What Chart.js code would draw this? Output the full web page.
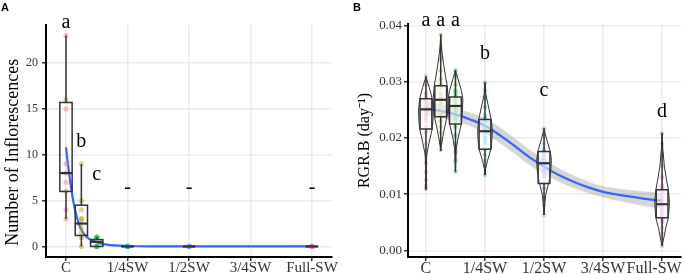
<!DOCTYPE html>
<html><head><meta charset="utf-8">
<script src="https://cdn.jsdelivr.net/npm/chart.js@4.4.1/dist/chart.umd.min.js"></script>
<style>
html,body{margin:0;padding:0;background:#fff;}
#wrap{position:relative;width:685px;height:274px;overflow:hidden;background:#fff;}
#ca{position:absolute;left:0;top:0;}
#cb{position:absolute;left:340px;top:0;}
</style></head><body>
<div id="wrap"><canvas id="ca" width="340" height="274"></canvas><canvas id="cb" width="345" height="274"></canvas></div>
<script>
// ===== Shared categories =====
const xTickValues = [0, 1, 2, 3, 4];
const xTickLabels = ['C', '1/4SW', '1/2SW', '3/4SW', 'Full-SW'];
const groupX = [0, 0.25, 0.5, 1, 2, 4];
const groupColors = ['#F8766D', '#B79F00', '#00BA38', '#00BFC4', '#619CFF', '#F564E3'];

// ===== Panel A : Number of Inflorescences =====
const aYTicks = [0, 5, 10, 15, 20];
const aPoints1 = [23, 16, 15, 9, 8, 7, 6, 4, 3];
const aPoints2 = [9, 5, 4, 3, 3, 2.5, 2, 1.5, 1, 0];
const aPoints3 = [1, 1, 1, 0, 0, 0];
const aPoints4 = [0, 0, 0, 0, 0];
const aPoints5 = [0, 0, 0, 0];
const aPoints6 = [0, 0, 0, 0];
// box stats: [min, q1, median, q3, max]
const aBox1 = [3, 6, 8, 15.7, 23];
const aBox2 = [0, 1.2, 2.5, 4.5, 9];
const aBox3 = [0, 0, 0.5, 0.75, 1];
const aBox4 = [0, 0, 0, 0, 0];
const aBox5 = [0, 0, 0, 0, 0];
const aBox6 = [0, 0, 0, 0, 0];
const aLetters = ['a', 'b', 'c', '-', '-', '-'];
const aLetterY = [23.8, 10.8, 7.2, 5.8, 5.8, 5.8];
const aFitX  = [0, 0.04, 0.09, 0.15, 0.23, 0.34, 0.5, 0.66, 1, 1.5, 2, 3, 4];
const aFitY  = [10.8, 8.5, 6.1, 3.9, 2.1, 1.0, 0.47, 0.2, 0.05, 0.01, 0, 0, 0];
const aFitLo = [10.2, 8.0, 5.7, 3.6, 1.85, 0.82, 0.36, 0.12, -0.03, -0.06, -0.06, -0.06, -0.08];
const aFitHi = [11.4, 9.0, 6.5, 4.2, 2.35, 1.18, 0.58, 0.28, 0.13, 0.08, 0.06, 0.06, 0.08];

// ===== Panel B : RGR.B =====
const bYTicks = [0.00, 0.01, 0.02, 0.03, 0.04];
const bPoints1 = [0.031, 0.0295, 0.028, 0.0275, 0.027, 0.0265, 0.026, 0.0255, 0.025, 0.025, 0.0245, 0.024, 0.0235, 0.023, 0.022, 0.021, 0.019, 0.017, 0.0155, 0.014, 0.0125, 0.0115, 0.011];
const bPoints2 = [0.0384, 0.036, 0.034, 0.032, 0.0305, 0.0295, 0.029, 0.028, 0.0275, 0.027, 0.0265, 0.026, 0.025, 0.0245, 0.024, 0.023, 0.022, 0.021, 0.0195, 0.0178];
const bPoints3 = [0.0321, 0.031, 0.0295, 0.0285, 0.028, 0.0275, 0.027, 0.0265, 0.026, 0.0255, 0.025, 0.0245, 0.024, 0.0235, 0.023, 0.022, 0.0205, 0.019, 0.0175, 0.016, 0.014];
const bPoints4 = [0.0299, 0.0285, 0.027, 0.0255, 0.024, 0.0235, 0.023, 0.022, 0.0215, 0.021, 0.0205, 0.02, 0.0195, 0.019, 0.018, 0.017, 0.016, 0.015, 0.0134];
const bPoints5 = [0.0217, 0.0205, 0.019, 0.018, 0.0175, 0.017, 0.0165, 0.016, 0.0155, 0.015, 0.0145, 0.014, 0.0135, 0.013, 0.012, 0.011, 0.0095, 0.008, 0.0063];
const bPoints6 = [0.0209, 0.019, 0.017, 0.015, 0.013, 0.0115, 0.011, 0.0105, 0.01, 0.0095, 0.009, 0.0085, 0.008, 0.0075, 0.007, 0.0065, 0.006, 0.0055, 0.005, 0.004, 0.003, 0.0008];
const bBox1 = [0.011, 0.0216, 0.0251, 0.027, 0.031];
const bBox2 = [0.0177, 0.0238, 0.0268, 0.0293, 0.0384];
const bBox3 = [0.014, 0.0225, 0.0257, 0.0273, 0.0321];
const bBox4 = [0.0134, 0.018, 0.0212, 0.0233, 0.0299];
const bBox5 = [0.0063, 0.0119, 0.0155, 0.0176, 0.0217];
const bBox6 = [0.0008, 0.0058, 0.0082, 0.0108, 0.0209];
// violin density profiles (value levels, relative density)
const bViolinV1 = [0.0309, 0.029, 0.027, 0.025, 0.023, 0.0216, 0.019, 0.017, 0.015, 0.013, 0.0107];
const bViolinD1 = [0, 0.45, 0.85, 1.0, 0.95, 0.85, 0.4, 0.1, 0.06, 0.05, 0];
const bViolinV2 = [0.0384, 0.036, 0.033, 0.031, 0.0293, 0.027, 0.025, 0.0238, 0.022, 0.020, 0.0185, 0.0177];
const bViolinD2 = [0, 0.1, 0.4, 0.65, 0.88, 1.0, 0.95, 0.85, 0.55, 0.25, 0.08, 0];
const bViolinV3 = [0.0321, 0.030, 0.0285, 0.027, 0.025, 0.0225, 0.020, 0.018, 0.016, 0.014];
const bViolinD3 = [0, 0.45, 0.8, 1.0, 0.95, 0.8, 0.35, 0.1, 0.05, 0];
const bViolinV4 = [0.0299, 0.028, 0.026, 0.0233, 0.0212, 0.019, 0.018, 0.016, 0.0145, 0.0134];
const bViolinD4 = [0, 0.08, 0.4, 0.85, 1.0, 0.9, 0.8, 0.35, 0.08, 0];
const bViolinV5 = [0.0217, 0.020, 0.0176, 0.016, 0.014, 0.0119, 0.010, 0.008, 0.0063];
const bViolinD5 = [0, 0.3, 0.85, 1.0, 0.9, 0.6, 0.25, 0.08, 0];
const bViolinV6 = [0.0209, 0.018, 0.015, 0.0125, 0.0108, 0.0085, 0.0058, 0.004, 0.002, 0.0008];
const bViolinD6 = [0, 0.1, 0.3, 0.6, 0.85, 1.0, 0.85, 0.5, 0.2, 0];
const bLetters = ['a', 'a', 'a', 'b', 'c', 'd'];
const bLetterY = [0.0399, 0.0399, 0.0399, 0.0340, 0.0274, 0.0238];
const bFitX  = [0, 0.25, 0.5, 0.75, 1, 1.25, 1.5, 1.75, 2, 2.25, 2.5, 2.75, 3, 3.25, 3.5, 3.75, 4];
const bFitY  = [0.0253, 0.0248, 0.0242, 0.0233, 0.0222, 0.0205, 0.0186, 0.0166, 0.0149, 0.0134, 0.0122, 0.0112, 0.0104, 0.0099, 0.0095, 0.0091, 0.0088];
const bFitLo = [0.0241, 0.0236, 0.0230, 0.0221, 0.0209, 0.0191, 0.0172, 0.0152, 0.0136, 0.0122, 0.0111, 0.0102, 0.0094, 0.0088, 0.0083, 0.0078, 0.0074];
const bFitHi = [0.0265, 0.0260, 0.0254, 0.0245, 0.0235, 0.0219, 0.0200, 0.0180, 0.0162, 0.0146, 0.0133, 0.0122, 0.0114, 0.0110, 0.0107, 0.0104, 0.0102];

// ===== rendering helpers =====
const BOX_W = 0.2;        // box width in x units
const VIOLIN_HALF = 0.125; // violin max half width in x units
const SERIF = '"Liberation Serif", "Times New Roman", serif';
const NB = '\u00A0';

function alpha(hex, a) {
  const n = parseInt(hex.slice(1), 16);
  return `rgba(${(n >> 16) & 255},${(n >> 8) & 255},${n & 255},${a})`;
}
function pts(xs, ys) { return xs.map((x, i) => ({ x: x, y: ys[i] })); }

function buildPanel(canvasId, P) {
  const datasets = [];
  datasets.push({ type: 'line', data: pts(P.fitX, P.fitHi), borderWidth: 0, pointRadius: 0, fill: '+1',
    backgroundColor: 'rgba(153,153,153,0.4)', borderColor: 'rgba(0,0,0,0)', cubicInterpolationMode: 'monotone', order: 5 });
  datasets.push({ type: 'line', data: pts(P.fitX, P.fitLo), borderWidth: 0, pointRadius: 0, fill: false,
    borderColor: 'rgba(0,0,0,0)', cubicInterpolationMode: 'monotone', order: 5 });
  datasets.push({ type: 'line', data: pts(P.fitX, P.fitY), borderWidth: 2.2, pointRadius: 0, fill: false,
    borderColor: '#3366FF', cubicInterpolationMode: 'monotone', order: 4 });
  P.points.forEach((arr, g) => {
    datasets.push({ type: 'line', showLine: false, data: arr.map(v => ({ x: groupX[g], y: v })),
      pointRadius: P.pointR, pointBorderWidth: 0, pointBackgroundColor: alpha(groupColors[g], P.pointA),
      borderColor: 'rgba(0,0,0,0)', order: 1 });
  });

  const statsPlugin = {
    id: 'stats',
    afterDatasetsDraw(chart) {
      const { ctx } = chart; const x = chart.scales.x, y = chart.scales.y;
      ctx.save();
      if (P.violinV) {
        P.violinV.forEach((vals, g) => {
          const dens = P.violinD[g];
          ctx.beginPath();
          for (let k = 0; k < vals.length; k++) {
            const px = x.getPixelForValue(groupX[g] + dens[k] * VIOLIN_HALF), py = y.getPixelForValue(vals[k]);
            k === 0 ? ctx.moveTo(px, py) : ctx.lineTo(px, py);
          }
          for (let k = vals.length - 1; k >= 0; k--) {
            ctx.lineTo(x.getPixelForValue(groupX[g] - dens[k] * VIOLIN_HALF), y.getPixelForValue(vals[k]));
          }
          ctx.closePath();
          ctx.strokeStyle = '#333'; ctx.lineWidth = 1; ctx.lineJoin = 'round';
          ctx.stroke();
        });
      }
      P.boxes.forEach((b, g) => {
        const cx = x.getPixelForValue(groupX[g]);
        const l = x.getPixelForValue(groupX[g] - BOX_W / 2), r = x.getPixelForValue(groupX[g] + BOX_W / 2);
        const [mn, q1, md, q3, mx] = b.map(v => y.getPixelForValue(v));
        ctx.strokeStyle = '#333'; ctx.lineWidth = 1.5; ctx.lineCap = 'butt';
        ctx.beginPath(); ctx.moveTo(cx, mx); ctx.lineTo(cx, q3); ctx.moveTo(cx, q1); ctx.lineTo(cx, mn); ctx.stroke();
        if (P.boxFill) { ctx.fillStyle = P.boxFill; ctx.fillRect(l, q3, r - l, q1 - q3); }
        ctx.strokeRect(l, q3, r - l, q1 - q3);
        ctx.lineWidth = 2.2;
        ctx.beginPath(); ctx.moveTo(l, md); ctx.lineTo(r, md); ctx.stroke();
      });
      ctx.restore();
    },
    afterDraw(chart) {
      const { ctx } = chart; const x = chart.scales.x, y = chart.scales.y;
      ctx.save();
      ctx.fillStyle = '#000'; ctx.textAlign = 'center'; ctx.textBaseline = 'alphabetic';
      ctx.font = '20px ' + SERIF;
      P.letters.forEach((t, g) => ctx.fillText(t, x.getPixelForValue(groupX[g]), y.getPixelForValue(P.letterY[g])));
      ctx.font = 'bold 11px "Liberation Sans", Arial, sans-serif';
      ctx.textAlign = 'left';
      ctx.fillText(P.tag, P.tagX, 11);
      ctx.restore();
    }
  };

  return new Chart(document.getElementById(canvasId), {
    type: 'line',
    data: { datasets },
    plugins: [statsPlugin],
    options: {
      responsive: false, animation: false, devicePixelRatio: 1, events: [],
      layout: { padding: P.padding },
      plugins: { legend: { display: false }, tooltip: { enabled: false } },
      scales: {
        x: {
          type: 'linear', min: P.xMin, max: P.xMax,
          afterBuildTicks: s => { s.ticks = xTickValues.map(v => ({ value: v })); },
          afterFit: s => { s.height = P.xAxisH; s.paddingLeft = 0; s.paddingRight = 0; },
          ticks: { autoSkip: false, maxRotation: 0, padding: P.xTickPad, color: '#333',
            font: { family: SERIF, size: P.xTickSize },
            callback: (v) => { const i = xTickValues.indexOf(v); return xTickLabels[i] + (P.labelPad[i] || ''); } },
          grid: { color: '#EBEBEB', lineWidth: 1.5, tickColor: '#333', tickLength: 4, tickWidth: 1.5 },
          border: { display: true, color: '#000', width: 2 }
        },
        y: {
          type: 'linear', min: P.yMin, max: P.yMax,
          afterBuildTicks: s => { s.ticks = P.yTicks.map(v => ({ value: v })); },
          afterFit: s => { s.width = P.yAxisW; s.paddingTop = 0; s.paddingBottom = 0; },
          ticks: { padding: P.yTickPad, color: '#333', font: { family: SERIF, size: P.yTickSize },
            callback: P.yFmt },
          grid: { color: '#EBEBEB', lineWidth: 1.5, tickColor: '#333', tickLength: 4, tickWidth: 1.5 },
          border: { display: true, color: '#000', width: 2 },
          title: { display: true, text: P.yTitle + P.titleTail, color: '#000', padding: { top: P.titlePad, bottom: 0 },
            font: { family: SERIF, size: P.titleSize, weight: 'normal' } }
        }
      }
    }
  });
}

buildPanel('ca', {
  tag: 'A', tagX: 1,
  points: [aPoints1, aPoints2, aPoints3, aPoints4, aPoints5, aPoints6], pointR: 2.6, pointA: 0.45,
  boxes: [aBox1, aBox2, aBox3, aBox4, aBox5, aBox6], boxFill: null,
  letters: aLetters, letterY: aLetterY,
  fitX: aFitX, fitY: aFitY, fitLo: aFitLo, fitHi: aFitHi,
  xMin: -0.325, xMax: 4.325, yMin: -1.15, yMax: 24.15, yTicks: aYTicks,
  yFmt: v => String(v), yTitle: 'Number of Inflorescences', titleTail: NB.repeat(5),
  labelPad: [],
  padding: { left: 0, right: 8, top: 25, bottom: 0 }, yAxisW: 46, xAxisH: 17,
  xTickPad: -2, yTickPad: 4, xTickSize: 15, yTickSize: 12, titleSize: 18, titlePad: 2
});

buildPanel('cb', {
  tag: 'B', tagX: 13,
  points: [bPoints1, bPoints2, bPoints3, bPoints4, bPoints5, bPoints6], pointR: 2.2, pointA: 0.4,
  boxes: [bBox1, bBox2, bBox3, bBox4, bBox5, bBox6], boxFill: 'rgba(255,255,255,0.55)',
  violinV: [bViolinV1, bViolinV2, bViolinV3, bViolinV4, bViolinV5, bViolinV6],
  violinD: [bViolinD1, bViolinD2, bViolinD3, bViolinD4, bViolinD5, bViolinD6],
  letters: bLetters, letterY: bLetterY,
  fitX: bFitX, fitY: bFitY, fitLo: bFitLo, fitHi: bFitHi,
  xMin: -0.304, xMax: 4.32, yMin: -0.0012, yMax: 0.0403, yTicks: bYTicks,
  yFmt: v => v.toFixed(2), yTitle: 'RGR.B (day\u207B\u00B9)', titleTail: '',
  labelPad: ['', '', '', '', NB.repeat(4)],
  padding: { left: 12, right: 3, top: 24, bottom: 0 }, yAxisW: 56, xAxisH: 17,
  xTickPad: -2, yTickPad: 2, xTickSize: 16, yTickSize: 13, titleSize: 16, titlePad: 3
});
</script>
</body></html>
